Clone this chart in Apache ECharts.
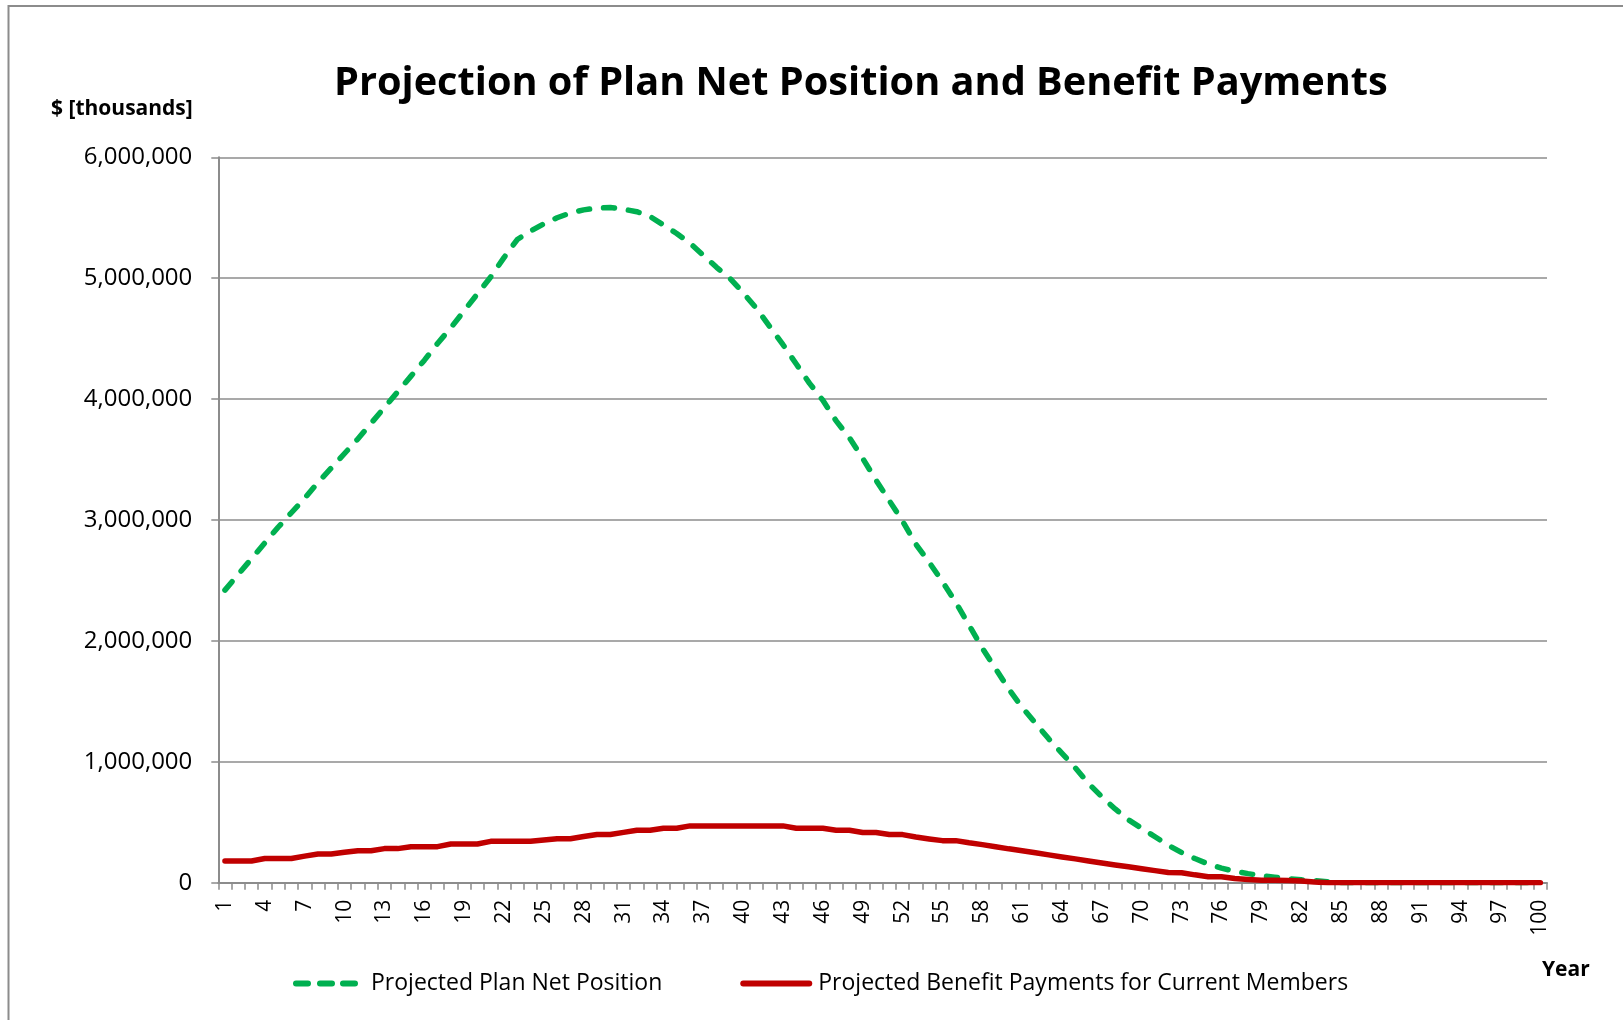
<!DOCTYPE html>
<html>
<head>
<meta charset="utf-8">
<script src="https://cdn.jsdelivr.net/npm/echarts@6/dist/echarts.min.js"></script>
<style>
html,body{margin:0;padding:0;background:#fff;}
#chart{width:1623px;height:1020px;}
</style>
</head>
<body>
<div id="chart"></div>
<script>
// Years 1..100
const years = [];
for (let i = 1; i <= 100; i++) years.push(String(i));

// Projected Plan Net Position ($ thousands)
const netPosition = [
  2420000, 2550000, 2680000, 2810000, 2940000, 3060000, 3180000, 3310000, 3430000, 3550000,
  3670000, 3800000, 3930000, 4060000, 4190000, 4320000, 4460000, 4590000, 4730000, 4870000,
  5010000, 5170000, 5320000, 5390000, 5450000, 5500000, 5540000, 5565000, 5580000, 5585000,
  5570000, 5550000, 5510000, 5440000, 5370000, 5290000, 5190000, 5090000, 5000000, 4880000,
  4750000, 4600000, 4450000, 4290000, 4130000, 3990000, 3820000, 3680000, 3510000, 3330000,
  3160000, 2990000, 2800000, 2650000, 2490000, 2320000, 2130000, 1940000, 1770000, 1600000,
  1450000, 1320000, 1190000, 1070000, 950000, 820000, 710000, 610000, 520000, 450000,
  380000, 310000, 250000, 200000, 155000, 120000, 95000, 75000, 58000, 45000,
  33000, 24000, 17000, 8000, 0, 0, 0, 0, 0, 0,
  0, 0, 0, 0, 0, 0, 0, 0, 0, 0
];

// Projected Benefit Payments for Current Members ($ thousands)
const benefitPayments = [
  180000, 180000, 180000, 200000, 200000, 200000, 220000, 238000, 238000, 252000,
  265000, 265000, 282000, 282000, 298000, 298000, 298000, 320000, 320000, 320000,
  342000, 342000, 342000, 342000, 353000, 364000, 364000, 382000, 398000, 398000,
  416000, 434000, 434000, 450000, 450000, 470000, 470000, 470000, 470000, 470000,
  470000, 470000, 470000, 450000, 450000, 450000, 434000, 434000, 415000, 415000,
  398000, 398000, 378000, 362000, 348000, 348000, 330000, 315000, 298000, 280000,
  265000, 248000, 230000, 213000, 197000, 180000, 163000, 147000, 132000, 115000,
  100000, 85000, 83000, 65000, 50000, 50000, 35000, 27000, 20000, 20000,
  18000, 15000, 5000, 0, 0, 0, 0, 0, 0, 0,
  0, 0, 0, 0, 0, 0, 0, 0, 0, 0
];

const seriesNames = ['Projected Plan Net Position', 'Projected Benefit Payments for Current Members'];
const titleText = 'Projection of Plan Net Position and Benefit Payments';
const yUnitText = '$ [thousands]';
const xNameText = 'Year';

// fit title font size to the reference title width
function fitFont(text, family, weight, target, base) {
  const ctx = document.createElement('canvas').getContext('2d');
  ctx.font = weight + ' ' + base + 'px "' + family + '"';
  const w = ctx.measureText(text).width;
  return w > 0 ? base * target / w : base;
}
const titleSize = fitFont(titleText, 'Open Sans', 'bold', 1054, 40);

const chart = echarts.init(document.getElementById('chart'), null, {renderer: 'canvas'});
const gray = '#8c8c8c';
const FONT = 'Open Sans';
// green legend icon: three rounded dashes over 65px of a 72px-wide box (tiny dot keeps the box width)
const greenIcon = 'path://M3,0h12a3,3 0 0 1 0,6h-12a3,3 0 0 1 0,-6z M27,0h12a3,3 0 0 1 0,6h-12a3,3 0 0 1 0,-6z M50,0h12a3,3 0 0 1 0,6h-12a3,3 0 0 1 0,-6z M71.99,2.99h0.01v0.01h-0.01z';
const redIcon = 'path://M3,0h66a3,3 0 0 1 0,6h-66a3,3 0 0 1 0,-6z';

const option = {
  animation: false,
  backgroundColor: '#fff',
  title: [
    {text: titleText, left: 334, top: 95 - 0.785 * titleSize, padding: 0,
     textStyle: {fontFamily: FONT, fontWeight: 'bold', fontSize: titleSize, color: '#000'}},
    {text: yUnitText, left: 51, top: 98.5, padding: 0,
     textStyle: {fontFamily: FONT, fontWeight: 'bold', fontSize: 21, color: '#000'}},
    {text: xNameText, left: 1542, top: 960, padding: 0,
     textStyle: {fontFamily: FONT, fontWeight: 'bold', fontSize: 21, color: '#000'}}
  ],
  graphic: [
    {type: 'rect', shape: {x: 8.5, y: 6, width: 1700, height: 1100},
     style: {fill: 'none', stroke: gray, lineWidth: 2}, silent: true}
  ],
  legend: {
    left: 293, top: 972, padding: 0,
    itemWidth: 72, itemHeight: 6, itemGap: 78,
    textStyle: {fontFamily: FONT, fontSize: 23, color: '#000', padding: [0, 0, 0, 1]},
    data: [
      {name: seriesNames[0], icon: greenIcon},
      {name: seriesNames[1], icon: redIcon}
    ]
  },
  grid: {left: 218.3, right: 76, top: 157.3, bottom: 137.3, containLabel: false},
  xAxis: {
    type: 'category',
    data: years,
    boundaryGap: true,
    axisLine: {lineStyle: {color: gray, width: 2}},
    axisTick: {show: true, interval: 0, length: 7, lineStyle: {color: gray, width: 1.5}},
    axisLabel: {interval: 2, rotate: 90, margin: 17, fontFamily: FONT, fontSize: 21, color: '#000'},
    splitLine: {show: false}
  },
  yAxis: {
    type: 'value',
    min: 0, max: 6000000, interval: 1000000,
    axisLine: {show: true, lineStyle: {color: gray, width: 2}},
    axisTick: {show: true, length: 7, lineStyle: {color: gray, width: 1.5}},
    axisLabel: {margin: 26, fontFamily: FONT, fontSize: 24, color: '#000',
      formatter: v => v.toLocaleString('en-US')},
    splitLine: {show: true, lineStyle: {color: gray, width: 1.5}}
  },
  series: [
    {name: seriesNames[0], type: 'line', data: netPosition, symbol: 'none', smooth: false,
     lineStyle: {color: '#00B050', width: 5.5, type: [11, 14], cap: 'round', join: 'round'},
     itemStyle: {color: '#00B050'}},
    {name: seriesNames[1], type: 'line', data: benefitPayments, symbol: 'none', smooth: false,
     lineStyle: {color: '#C00000', width: 5.5, cap: 'round', join: 'round'},
     itemStyle: {color: '#C00000'}}
  ]
};
chart.setOption(option);
</script>
</body>
</html>
